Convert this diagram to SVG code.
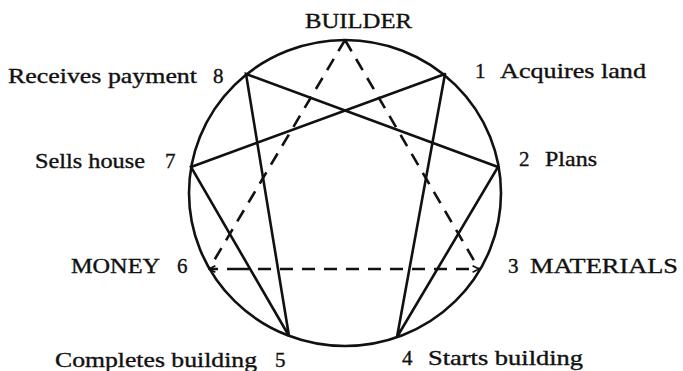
<svg xmlns="http://www.w3.org/2000/svg" width="683" height="371" viewBox="0 0 683 371">
<style>
.t{font-family:"Liberation Serif","Times New Roman",serif;font-size:21px;fill:#111;stroke:#111;stroke-width:0.35}
.s{stroke:#111;stroke-width:2.6;fill:none;stroke-linecap:round}
.d{stroke:#111;stroke-width:2.6;fill:none;stroke-dasharray:13 9}
</style>
<defs>
<marker id="ah" viewBox="0 0 10 10" refX="9" refY="5" markerWidth="8" markerHeight="8" markerUnits="userSpaceOnUse" orient="auto">
<path d="M1,1 L9,5 L1,9" fill="none" stroke="#111" stroke-width="2.2"/>
</marker>
</defs>
<rect width="683" height="371" fill="#fff"/>
<g id="circle"><ellipse cx="345" cy="193" rx="156" ry="153" class="s"/></g>
<g id="connectors">
<polyline class="s" points="445,74 397,337 498,167 246,74 289,336 191,167 445,74"/>
<line class="d" x1="345" y1="40" x2="479" y2="269"/>
<line class="d" x1="345" y1="40" x2="209" y2="269"/>
<line class="d" x1="240" y1="269" x2="209" y2="269" marker-end="url(#ah)"/>
<line class="d" x1="240" y1="269" x2="479" y2="269" stroke-dashoffset="4" marker-end="url(#ah)"/>
</g>
<g id="n9"><text class="t" x="305" y="28" textLength="107" lengthAdjust="spacingAndGlyphs">BUILDER</text></g>
<g id="n1"><text class="t" x="475" y="78">1</text><text class="t" x="500" y="78" textLength="146" lengthAdjust="spacingAndGlyphs">Acquires land</text></g>
<g id="n2"><text class="t" x="519" y="166">2</text><text class="t" x="545" y="166" textLength="52" lengthAdjust="spacingAndGlyphs">Plans</text></g>
<g id="n3"><text class="t" x="508" y="273">3</text><text class="t" x="530" y="273" textLength="148" lengthAdjust="spacingAndGlyphs">MATERIALS</text></g>
<g id="n4"><text class="t" x="402" y="365">4</text><text class="t" x="428" y="365" textLength="155" lengthAdjust="spacingAndGlyphs">Starts building</text></g>
<g id="n5"><text class="t" x="55" y="367" textLength="202" lengthAdjust="spacingAndGlyphs">Completes building</text><text class="t" x="275" y="367">5</text></g>
<g id="n6"><text class="t" x="71" y="273" textLength="89" lengthAdjust="spacingAndGlyphs">MONEY</text><text class="t" x="177" y="273">6</text></g>
<g id="n7"><text class="t" x="35" y="168" textLength="110" lengthAdjust="spacingAndGlyphs">Sells house</text><text class="t" x="165" y="168">7</text></g>
<g id="n8"><text class="t" x="8" y="83" textLength="189" lengthAdjust="spacingAndGlyphs">Receives payment</text><text class="t" x="213" y="83">8</text></g>
</svg>
